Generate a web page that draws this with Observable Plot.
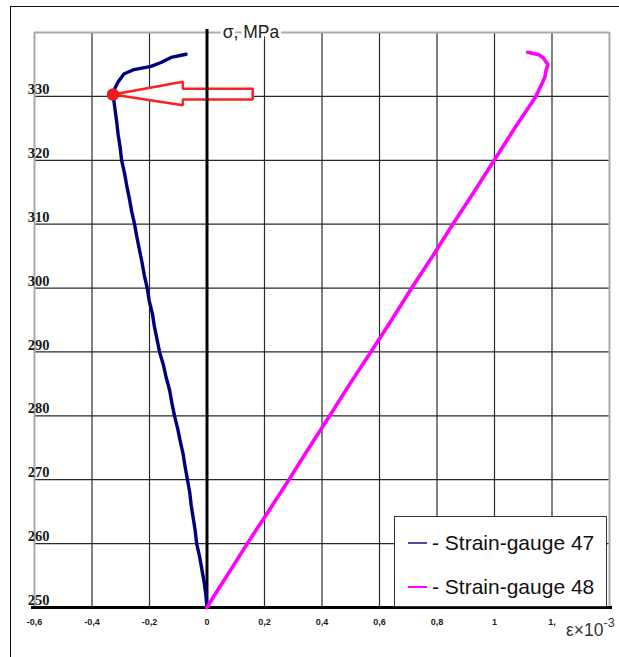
<!DOCTYPE html>
<html><head><meta charset="utf-8">
<script src="https://cdn.jsdelivr.net/npm/d3@7"></script>
<script src="https://cdn.jsdelivr.net/npm/@observablehq/plot@0.6"></script>
<style>
body{margin:0;background:#fff;}
#wrap{position:relative;width:619px;height:657px;overflow:hidden;background:#fff;}
#chart{position:absolute;left:0;top:0;}
#frame{position:absolute;left:10px;top:6px;width:700px;height:700px;border-top:1.5px solid #111;border-left:1.5px solid #111;}
#legend{position:absolute;left:394px;top:516px;width:213px;height:91px;background:#fff;border:1px solid #333;box-sizing:border-box;font-family:"Liberation Sans",Arial,sans-serif;font-size:21px;color:#111;}
.row{position:absolute;left:13px;height:24px;display:flex;align-items:center;white-space:nowrap;}
.sw{width:19px;height:0;border-top:2px solid;margin-right:5px;}
</style></head>
<body>
<div id="wrap"><div id="frame"></div><div id="chart"></div><div id="legend"></div></div>
<script>
// ---- data ----
const xDomain = [-0.6, 1.4];
const yDomain = [250, 340];
const xTicks = [-0.6, -0.4, -0.2, 0, 0.2, 0.4, 0.6, 0.8, 1, 1.2];
const xTickLabels = ["-0,6", "-0,4", "-0,2", "0", "0,2", "0,4", "0,6", "0,8", "1", "1,"];
const yTicks = [250, 260, 270, 280, 290, 300, 310, 320, 330];
const seriesNames = ["Strain-gauge 47", "Strain-gauge 48"];
const seriesColors = ["#00007f", "#ff00ff"];

const gauge47Stress = [250,252,254,256,258,260,262,264,266,268,270,272,274,276,278,280,282,284,286,288,290,292,294,296,298,300,302,304,306,308,310,312,314,316,318,320,322,324,326,328,330,331,332.2,333.5,334.2,334.7,335.3,336.1,336.6];
const gauge47Strain = [0,-0.004,-0.010,-0.018,-0.026,-0.036,-0.041,-0.048,-0.055,-0.060,-0.068,-0.076,-0.083,-0.093,-0.102,-0.113,-0.122,-0.130,-0.142,-0.152,-0.165,-0.174,-0.183,-0.190,-0.201,-0.208,-0.218,-0.226,-0.235,-0.244,-0.252,-0.262,-0.270,-0.279,-0.287,-0.297,-0.302,-0.309,-0.314,-0.320,-0.326,-0.323,-0.310,-0.289,-0.254,-0.195,-0.160,-0.125,-0.073];

const gauge48Stress = [250,252,255,260,265,270,275,280,285,290,295,300,305,310,315,320,325,330,331.5,333,334.2,335,336,336.5,336.9];
const gauge48Strain = [0,0.027,0.07,0.14,0.213,0.285,0.355,0.427,0.497,0.57,0.642,0.712,0.785,0.855,0.928,0.999,1.07,1.144,1.16,1.175,1.18,1.186,1.17,1.155,1.115];

// marked point and the outlined arrow pointing at it (data units)
const markerStrain = [-0.327];
const markerStress = [330.3];
const arrowStrain = [-0.327, -0.084, -0.084, 0.159, 0.159, -0.084, -0.084, -0.327];
const arrowStress = [330.3, 332.3, 331.2, 331.2, 329.5, 329.5, 328.6, 330.3];

// ---- build tables ----
const g47 = gauge47Stress.map((s, i) => ({x: gauge47Strain[i], y: s}));
const g48 = gauge48Stress.map((s, i) => ({x: gauge48Strain[i], y: s}));
const arrow = arrowStress.map((s, i) => ({x: arrowStrain[i], y: s}));
const marker = markerStress.map((s, i) => ({x: markerStrain[i], y: s}));
const xLab = xTicks.map((v, i) => ({x: v, label: xTickLabels[i]}));
const gridX = xTicks.filter(v => v !== 0 && v !== xDomain[0]);
const gridY = yTicks.filter(v => v !== yDomain[0]);

const chart = Plot.plot({
  width: 619,
  height: 657,
  marginLeft: 34,
  marginRight: 10,
  marginTop: 32,
  marginBottom: 50,
  x: {domain: xDomain, axis: null},
  y: {domain: yDomain, axis: null},
  style: {background: "transparent", overflow: "visible"},
  marks: [
    Plot.ruleX(gridX, {stroke: "#2a2a2a", strokeWidth: 1.2}),
    Plot.ruleY(gridY, {stroke: "#2a2a2a", strokeWidth: 1.2}),
    Plot.ruleX(xDomain, {stroke: "#aaa", strokeWidth: 2}),
    Plot.ruleY([yDomain[1]], {stroke: "#aaa", strokeWidth: 2}),
    Plot.line(arrow, {x: "x", y: "y", fill: "white", stroke: "#ff1f1f", strokeWidth: 2.5, strokeLinejoin: "miter"}),
    Plot.ruleX([0], {stroke: "#000", strokeWidth: 3, insetTop: -3}),
    Plot.ruleY([yDomain[0]], {stroke: "#000", strokeWidth: 3.2, insetLeft: -3, insetRight: -3}),
    Plot.line(g47, {x: "x", y: "y", stroke: seriesColors[0], strokeWidth: 3.4}),
    Plot.line(g48, {x: "x", y: "y", stroke: seriesColors[1], strokeWidth: 3.6}),
    Plot.dot(marker, {x: "x", y: "y", r: 5.5, fill: "#ee1c1c", stroke: "#ee1c1c"}),
    Plot.text(yTicks, {x: xDomain[0], y: d => d, text: d => String(d), dx: 4, dy: -7, textAnchor: "middle",
      fontFamily: "Liberation Serif, Times New Roman, serif", fontWeight: "bold", fontSize: 14.5, fill: "#1a1a1a"}),
    Plot.text(xLab, {x: "x", y: yDomain[0], text: "label", dy: 15, textAnchor: "middle",
      fontFamily: "Liberation Sans Narrow, Liberation Sans, Arial, sans-serif", fontWeight: "bold", fontSize: 9, fill: "#1a1a1a"}),
    Plot.text(["σ, MPa"], {x: 0, y: yDomain[1], text: d => d, dx: 44, textAnchor: "middle",
      fontFamily: "Liberation Sans, Arial, sans-serif", fontSize: 17.5, fill: "#222", stroke: "white", strokeWidth: 6, paintOrder: "stroke"}),
    Plot.text(["ε×10"], {x: xDomain[1], y: yDomain[0], text: d => d, dx: -6, dy: 23, textAnchor: "end",
      fontFamily: "Liberation Sans, Arial, sans-serif", fontSize: 17.5, fill: "#333"}),
    Plot.text(["-3"], {x: xDomain[1], y: yDomain[0], text: d => d, dx: -6, dy: 15, textAnchor: "start",
      fontFamily: "Liberation Sans, Arial, sans-serif", fontSize: 12.5, fill: "#333"})
  ]
});
document.getElementById("chart").appendChild(chart);

// legend
const legend = document.getElementById("legend");
seriesNames.forEach((name, i) => {
  const row = document.createElement("div");
  row.className = "row";
  row.style.top = (14 + i * 44) + "px";
  const sw = document.createElement("span");
  sw.className = "sw";
  sw.style.borderTopColor = seriesColors[i];
  sw.style.opacity = i === 0 ? 0.7 : 1;
  const t = document.createElement("span");
  t.textContent = "- " + name;
  row.appendChild(sw);
  row.appendChild(t);
  legend.appendChild(row);
});
</script>
</body></html>
